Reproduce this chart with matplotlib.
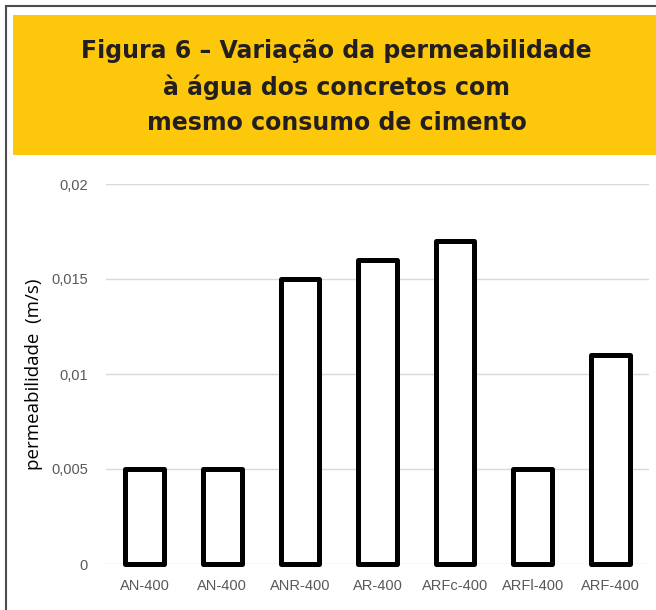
import matplotlib.pyplot as plt
from matplotlib.patches import Rectangle

# dados
categorias = ['AN-400', 'AN-400', 'ANR-400', 'AR-400', 'ARFc-400', 'ARFl-400', 'ARF-400']
permeabilidade = [0.005, 0.005, 0.015, 0.016, 0.017, 0.005, 0.011]
yticks = [0, 0.005, 0.01, 0.015, 0.02]
ytick_labels = ['0', '0,005', '0,01', '0,015', '0,02']

titulo = 'Figura 6 – Variação da permeabilidade\nà água dos concretos com\nmesmo consumo de cimento'

fig = plt.figure(figsize=(6.56, 6.10), dpi=100)

# moldura externa e caixa amarela do titulo
fig.patches.append(Rectangle((6 / 656, -0.05), 1.1, 1 - 6 / 610 + 0.05, transform=fig.transFigure,
                             facecolor='white', edgecolor='#4d4d4d', linewidth=1.5, zorder=-2))
fig.patches.append(Rectangle((13 / 656, 1 - 155 / 610), 1.0, 140 / 610, transform=fig.transFigure,
                             facecolor='#fdc70c', edgecolor='none', zorder=-1))
fig.text(0.513, 1 - 87 / 610, titulo, ha='center', va='center', fontsize=17, fontweight='bold',
         color='#231f20', linespacing=1.55, family=['DejaVu Sans'])

ax = fig.add_axes([106 / 656, 1 - 564 / 610, 543 / 656, 380 / 610])
ax.patch.set_alpha(0)
x = range(len(categorias))
bars = ax.bar(x, permeabilidade, width=0.5, color='white', edgecolor='black', linewidth=3.6,
              joinstyle='round', zorder=3)
for b in bars:
    b.set_clip_on(False)

ax.set_ylim(0, 0.02)
ax.set_xlim(-0.5, len(categorias) - 0.5)
ax.set_yticks(yticks)
ax.set_yticklabels(ytick_labels)
ax.set_xticks(list(x))
ax.set_xticklabels(categorias)
for lbl in ax.get_xticklabels() + ax.get_yticklabels():
    lbl.set_family(['Liberation Sans', 'DejaVu Sans'])
ax.tick_params(axis='both', length=0, labelsize=10.5, labelcolor='#595959')
ax.tick_params(axis='y', pad=13)
ax.tick_params(axis='x', pad=11)
ax.grid(axis='y', color='#d9d9d9', linewidth=1)
ax.set_axisbelow(True)
for s in ax.spines.values():
    s.set_visible(False)

ax.set_ylabel('permeabilidade  (m/s)', fontsize=13.5, color='black', family=['Open Sans', 'DejaVu Sans'])
ax.yaxis.set_label_coords((43 - 106) / 543, 0.5)

plt.savefig('out.png', dpi=100)
